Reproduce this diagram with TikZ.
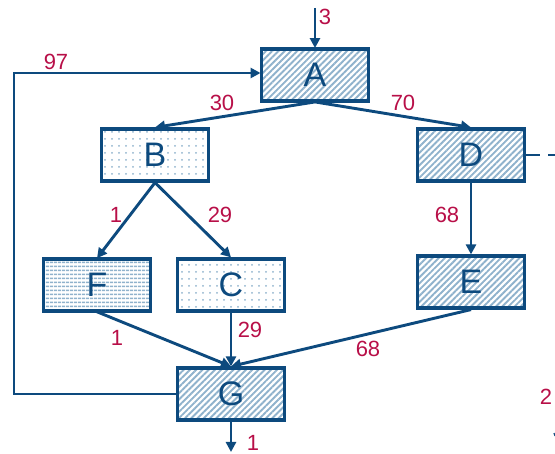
\documentclass[tikz,border=0pt]{standalone}
\usepackage{fontspec}
\setmainfont{Liberation Sans}
\usetikzlibrary{arrows.meta,patterns.meta}
\definecolor{navy}{HTML}{0D4A7E}
\definecolor{hatch}{HTML}{8FB2CC}
\definecolor{flow}{HTML}{B80F48}
\tikzset{
  box/.style={draw=navy,line width=3.2pt,minimum width=107pt,minimum height=52pt,
    inner sep=0pt,font=\fontsize{34}{36}\selectfont,text=navy},
  diag/.style={box,pattern={Lines[angle=45,distance=4.4pt,line width=1.9pt]},pattern color=hatch},
  dotted box/.style={box,pattern={Dots[distance=7pt,radius=1pt]},pattern color=hatch},
  horiz/.style={box,pattern={Lines[angle=0,distance=4pt,line width=1.6pt]},pattern color=hatch},
  flowline/.style={draw=navy,line width=2.9pt,-{Triangle[length=10pt,width=10pt]}},
  qty/.style={text=flow,font=\fontsize{22}{24}\selectfont,inner sep=0pt}
}
\begin{document}
\begin{tikzpicture}[x=1pt,y=-1pt]
\useasboundingbox (0,0) rectangle (555,454);
% process boxes
\node[diag] (A) at (315,75) {A};
\node[dotted box] (B) at (155,155) {B};
\node[diag] (D) at (471,155) {D};
\node[horiz] (F) at (97,285) {F};
\node[dotted box] (C) at (231,285) {C};
\node[diag] (E) at (471,282) {E};
\node[diag] (G) at (231,394) {G};
% free ends
\coordinate (in) at (315,8);
\coordinate (out) at (231,452);
\coordinate (Dout) at (555,155);
\coordinate (loopB) at (14,394);
\coordinate (loopT) at (14,73);
% flows
\draw[flowline] (in) -- (A.north);
\draw[flowline] (A.south) -- (B.north);
\draw[flowline] (A.south) -- (D.north);
\draw[flowline] (B.south) -- (F.north);
\draw[flowline] (B.south) -- (C.north);
\draw[flowline] (D.south) -- (E.north);
\draw[flowline] (F.south) -- (G.north);
\draw[flowline] (C.south) -- (G.north);
\draw[flowline] (E.south) -- (G.north);
\draw[flowline] (G.south) -- (out);
\draw[flowline] (G.west) -- (loopB) -- (loopT) -- (A.west |- loopT);
\draw[navy,line width=2.9pt,dash pattern=on 14pt off 8pt] (D.east) -- (Dout);
\draw[navy,line width=1.2pt] (554,433) -- (555,436);
% quantities
\node[qty] at (325,17) {3};
\node[qty] at (222,103) {30};
\node[qty] at (403,103) {70};
\node[qty] at (56,62) {97};
\node[qty] at (116,215) {1};
\node[qty] at (220,215) {29};
\node[qty] at (447,215) {68};
\node[qty] at (117,338) {1};
\node[qty] at (250,330) {29};
\node[qty] at (368,349) {68};
\node[qty] at (253,443) {1};
\node[qty] at (546,397) {2};
\end{tikzpicture}
\end{document}
